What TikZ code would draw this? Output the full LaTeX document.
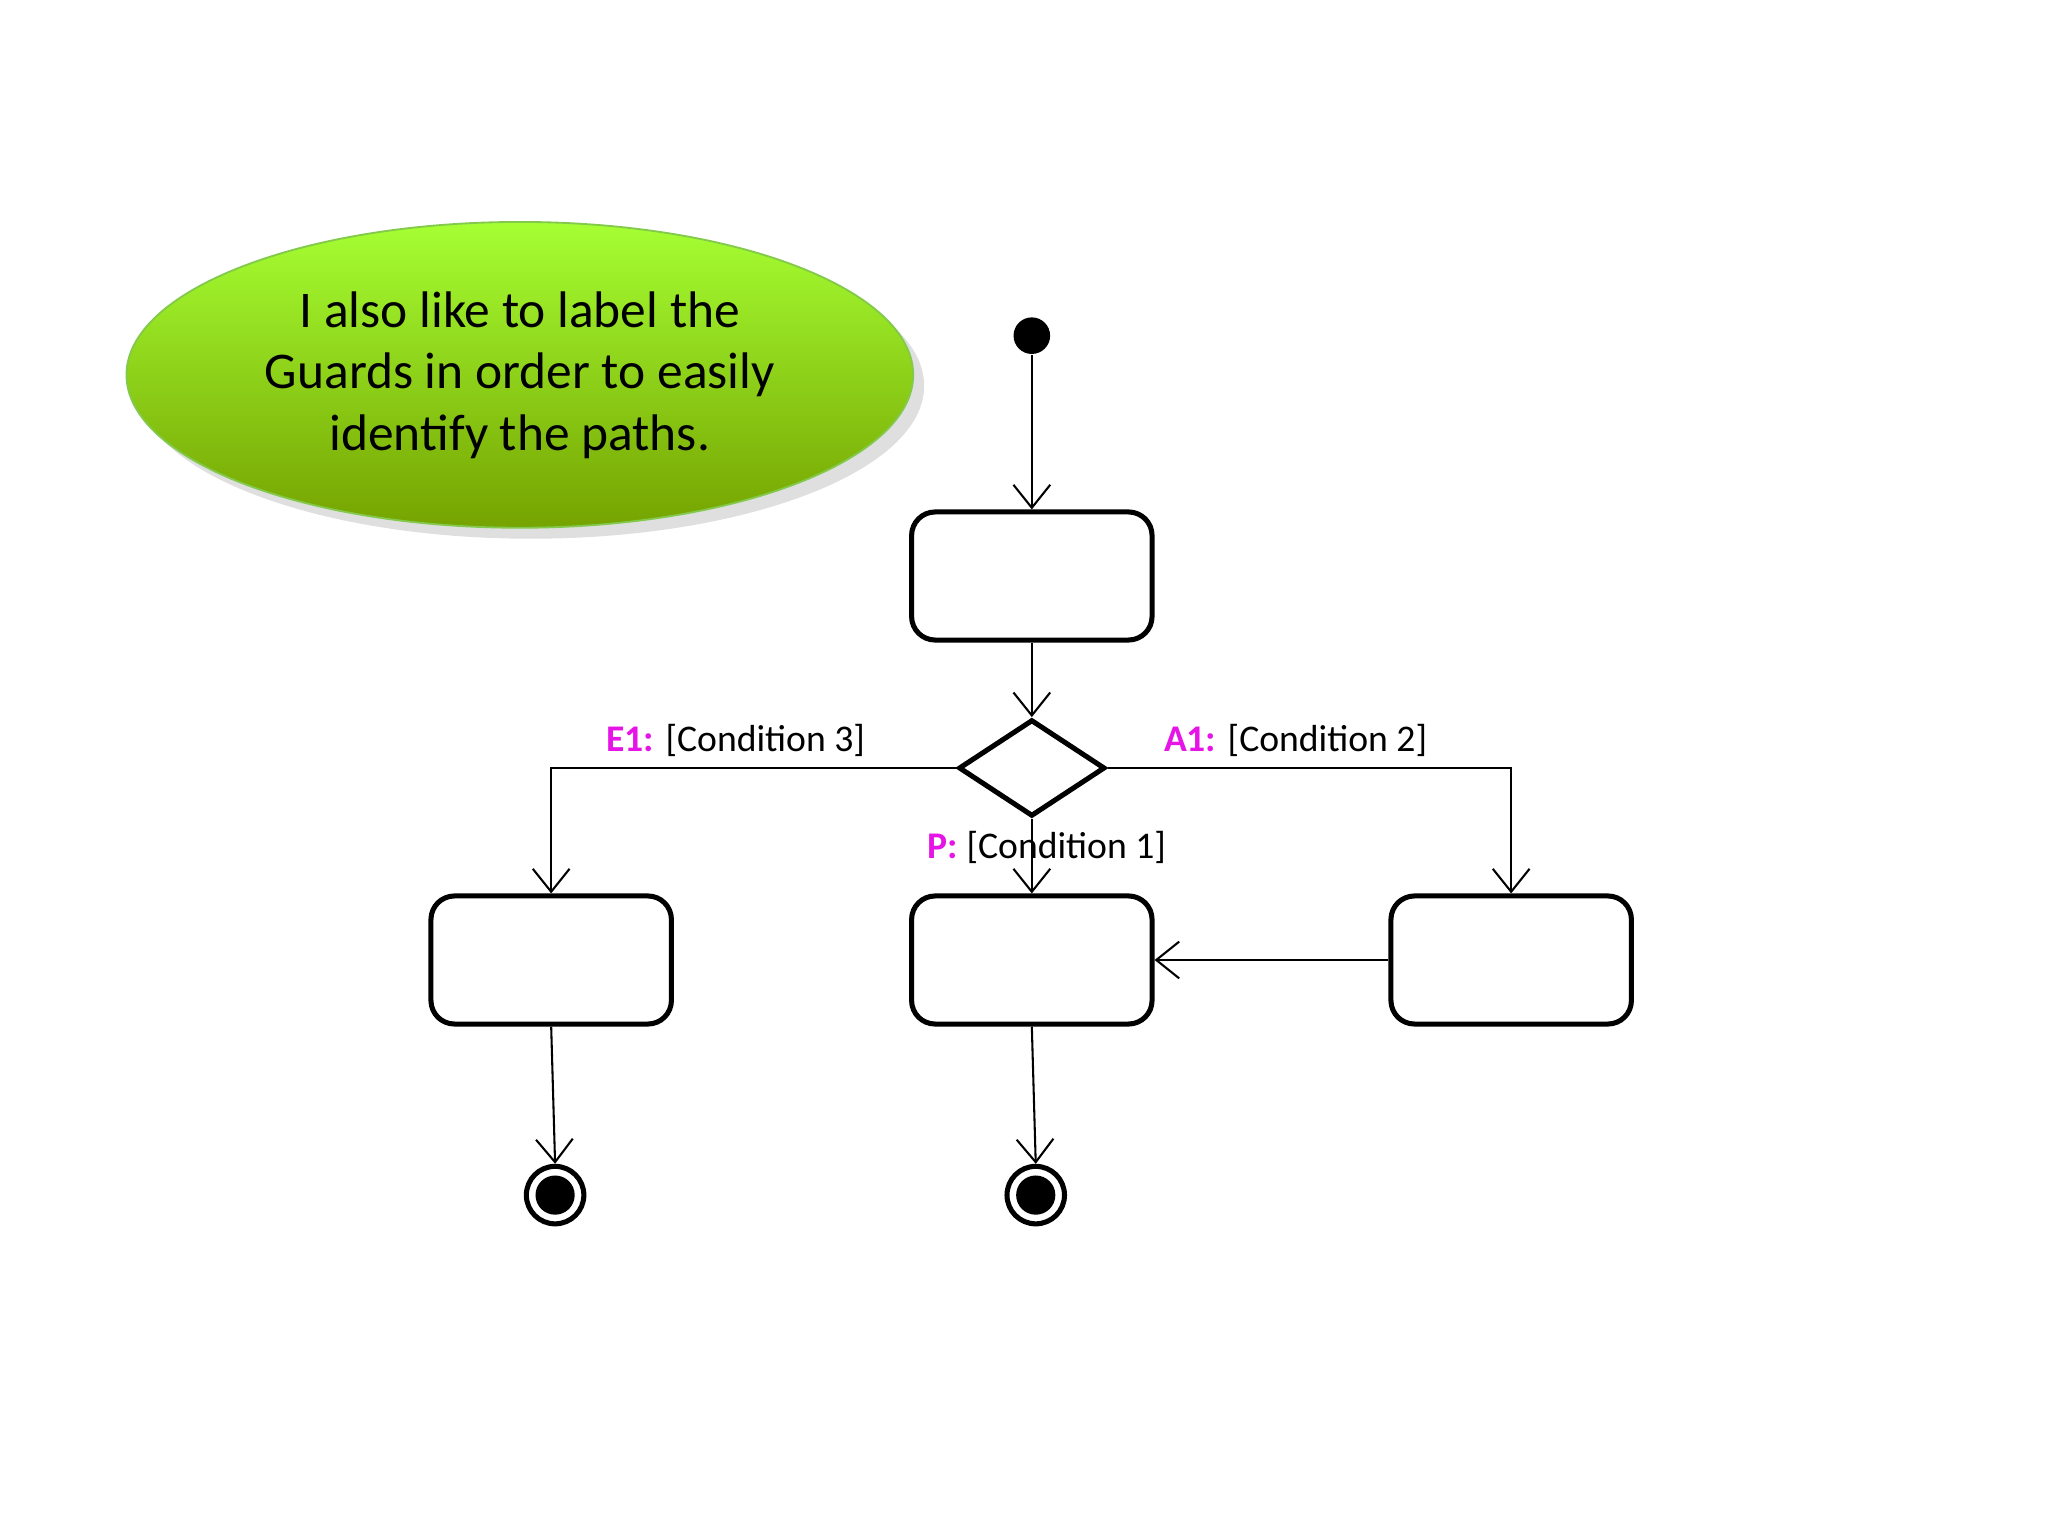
\documentclass[tikz,border=0pt]{standalone}
\usepackage{fontspec}
\setmainfont{Carlito}
\usetikzlibrary{shapes.geometric,arrows.meta,shadows}
\definecolor{mag}{RGB}{230,20,230}
\begin{document}
\begin{tikzpicture}[x=0.01cm,y=-0.01cm,
  act/.style={draw,line width=1.1pt,rounded corners=0.18cm,minimum width=1.84cm,minimum height=0.98cm,inner sep=0},
  arr/.style={line width=0.45pt,-{Straight Barb[length=5pt,width=8pt]}},
  lab/.style={font=\fontsize{8.2}{10}\selectfont,inner sep=1pt},
  m/.style={text=mag,font=\bfseries}]
\useasboundingbox (0,0) rectangle (1568,1176);
\node[ellipse,minimum width=6.02cm,minimum height=2.34cm,draw=green!40!olive!70,
  top color=green!50!lime!70!yellow!80,bottom color=olive!80!green!90,
  shading angle=0,drop shadow={opacity=0.25},align=center,
  font=\fontsize{11.2}{13.4}\selectfont] (note) at (398,287)
  {I also like to label the\\Guards in order to easily\\identify the paths.};
\node[circle,fill=black,minimum size=0.28cm,inner sep=0] (start) at (790,257) {};
\node[act] (b1) at (790,441) {};
\node[diamond,draw,line width=1.1pt,minimum width=1.12cm,minimum height=0.74cm,inner sep=0,aspect=1.5] (d) at (790,588) {};
\node[act] (bl) at (422,735) {};
\node[act] (bm) at (790,735) {};
\node[act] (br) at (1157,735) {};
\node[circle,draw,line width=1.1pt,minimum size=0.44cm,inner sep=0] (e1) at (425,915) {};
\node[circle,fill=black,minimum size=0.3cm,inner sep=0] at (e1) {};
\node[circle,draw,line width=1.1pt,minimum size=0.44cm,inner sep=0] (e2) at (793,915) {};
\node[circle,fill=black,minimum size=0.3cm,inner sep=0] at (e2) {};
\draw[arr] (start) -- (b1);
\draw[arr] (b1) -- (d);
\draw[arr] (d.west) -| (bl.north);
\draw[arr] (d.east) -| (br.north);
\draw[arr] (d) -- (bm);
\draw[arr] (br) -- (bm);
\draw[arr] (bl.south) -- (e1.north);
\draw[arr] (bm.south) -- (e2.north);
\node[lab,anchor=base west] (l1) at (460,575) {\textcolor{mag}{\bfseries E1:} [Condition 3]};
\node[lab,anchor=base west] (l2) at (887,575) {\textcolor{mag}{\bfseries A1:} [Condition 2]};
\node[lab,anchor=base west] (l3) at (706,657) {\textcolor{mag}{\bfseries P:} [Condition 1]};
\end{tikzpicture}
\end{document}
